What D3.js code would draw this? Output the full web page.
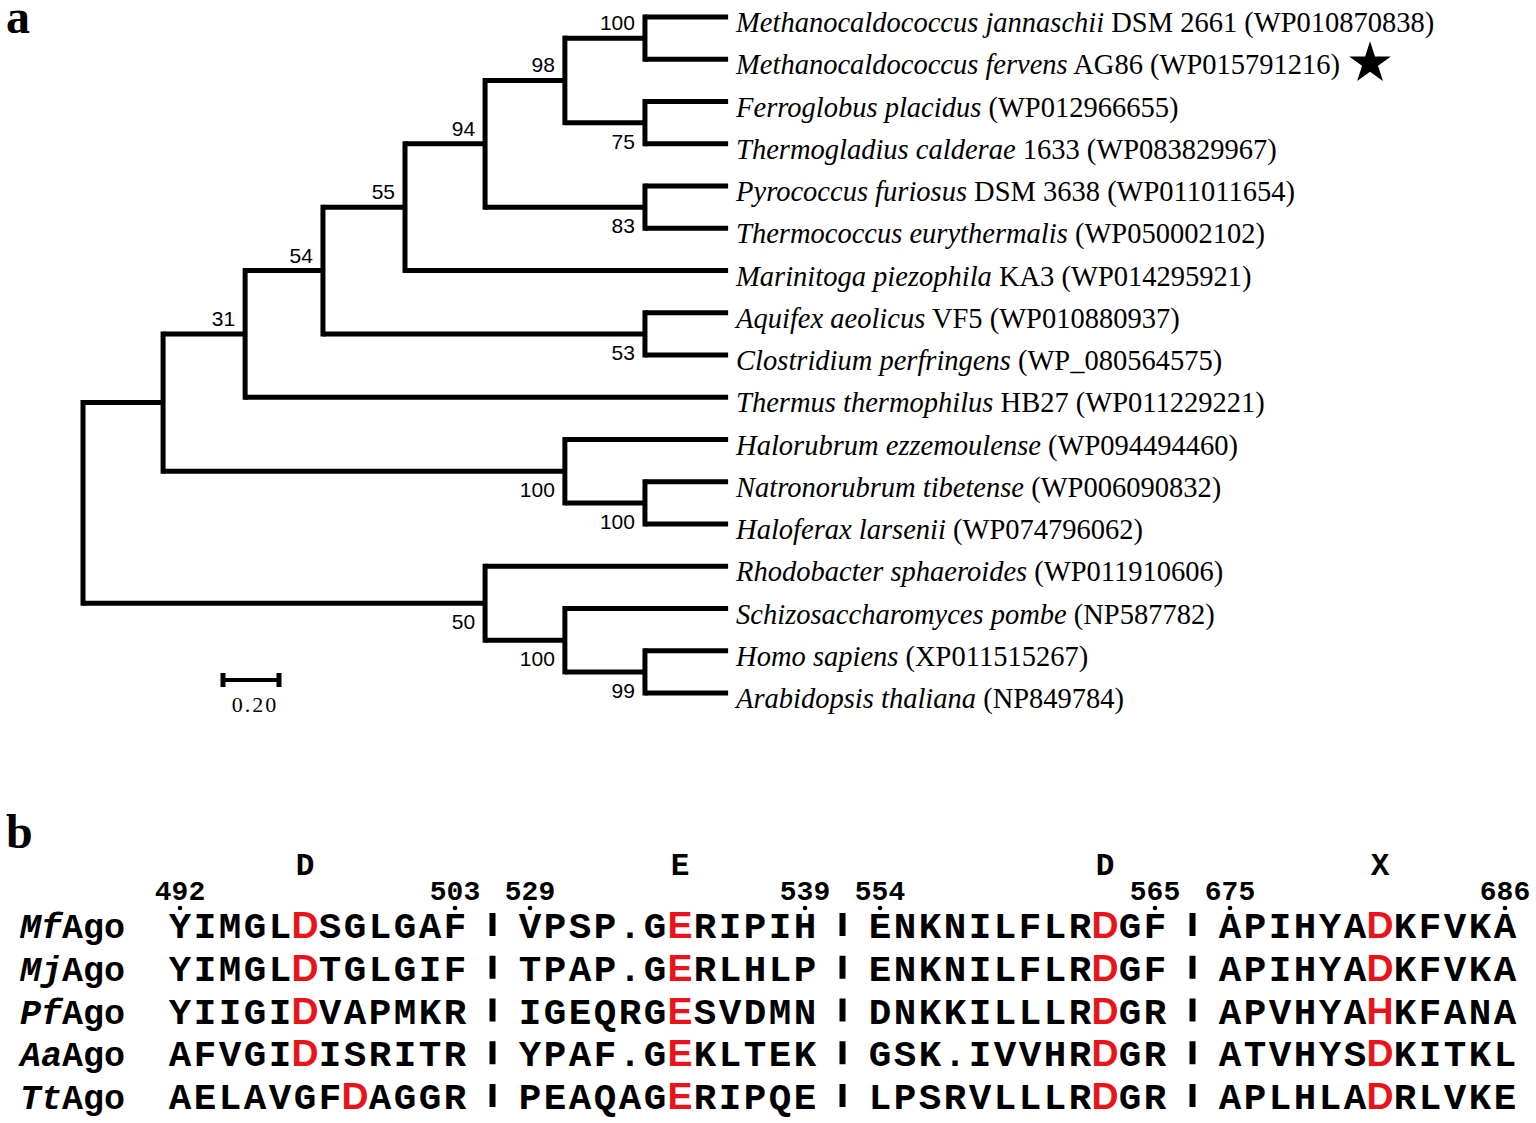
<!DOCTYPE html>
<html><head><meta charset="utf-8">
<script src="https://cdn.jsdelivr.net/npm/d3@7"></script>
<style>
body{margin:0;background:#fff}
svg{display:block}
text{white-space:pre}
</style>
</head><body>
<script>
// ---------- Panel a data ----------
const leafItalic = [
  "Methanocaldococcus jannaschii","Methanocaldococcus fervens","Ferroglobus placidus",
  "Thermogladius calderae","Pyrococcus furiosus","Thermococcus eurythermalis",
  "Marinitoga piezophila","Aquifex aeolicus","Clostridium perfringens",
  "Thermus thermophilus","Halorubrum ezzemoulense","Natronorubrum tibetense",
  "Haloferax larsenii","Rhodobacter sphaeroides","Schizosaccharomyces pombe",
  "Homo sapiens","Arabidopsis thaliana"
];
const leafRoman = [
  " DSM 2661 (WP010870838)"," AG86 (WP015791216)"," (WP012966655)",
  " 1633 (WP083829967)"," DSM 3638 (WP011011654)"," (WP050002102)",
  " KA3 (WP014295921)"," VF5 (WP010880937)"," (WP_080564575)",
  " HB27 (WP011229221)"," (WP094494460)"," (WP006090832)",
  " (WP074796062)"," (WP011910606)"," (NP587782)",
  " (XP011515267)"," (NP849784)"
];
const starredLeaf = ["L1"];
// tree: id, parent, branch length, bootstrap support
const nodeIds      = ["R","A","B","C","D","E","F","G","L0","L1","H","L2","L3","I","L4","L5","L6","J","L7","L8","L9","K","L10","M","L11","L12","N","L13","O","L14","P","L15","L16"];
const nodeParents  = ["", "R","A","B","C","D","E","F","G", "G", "F","H", "H", "E","I", "I", "D", "C","J", "J", "B", "A","K",  "K","M",  "M",  "R","N",  "N","O",  "O","P",  "P"];
const branchLength = [0, 0.286,0.293,0.278,0.293,0.286,0.285,0.286,0.297,0.297,0.286,0.297,0.297,0.571,0.297,0.297,1.154,1.150,0.297,0.297,1.725,1.435,0.583,0.286,0.297,0.297,1.436,0.868,0.285,0.583,0.286,0.297,0.297];
const bootstrap    = [null,null,31,54,55,94,98,100,null,null,75,null,null,83,null,null,null,53,null,null,null,100,null,100,null,null,50,null,100,null,99,null,null];
const scaleBarValue = 0.20;
const scaleBarLabel = "0.20";

// ---------- Panel b data ----------
const seqNames = ["Mf","Mj","Pf","Aa","Tt"];
const seqMf = ["YIMGLDSGLGAF","VPSP.GERIPIH","ENKNILFLRDGF","APIHYADKFVKA"];
const seqMj = ["YIMGLDTGLGIF","TPAP.GERLHLP","ENKNILFLRDGF","APIHYADKFVKA"];
const seqPf = ["YIIGIDVAPMKR","IGEQRGESVDMN","DNKKILLLRDGR","APVHYAHKFANA"];
const seqAa = ["AFVGIDISRITR","YPAF.GEKLTEK","GSK.IVVHRDGR","ATVHYSDKITKL"];
const seqTt = ["AELAVGFDAGGR","PEAQAGERIPQE","LPSRVLLLRDGR","APLHLADRLVKE"];
const catalyticCols = [[5,6,9,6],[5,6,9,6],[5,6,9,6],[5,6,9,6],[7,6,9,6]];
const segStartNum = [492,529,554,675];
const segEndNum   = [503,539,565,686];
const motifLabels = ["D","E","D","X"];
const motifCols   = [5,6,9,6];

// ---------- drawing ----------
const W = 1536, H = 1123;
const svg = d3.select("body").append("svg").attr("width", W).attr("height", H);
const serif = "'Times New Roman','Liberation Serif',serif";
const sans = "Arial,'Liberation Sans',Helvetica,sans-serif";
const mono = "'Courier New','Liberation Mono',monospace";
const red = "#e8131b";

// panel letters
svg.append("text").attr("x", 6).attr("y", 33).text("a")
  .attr("font-family", serif).attr("font-weight", "bold").attr("font-size", 48);
svg.append("text").attr("x", 6).attr("y", 848).text("b")
  .attr("font-family", serif).attr("font-weight", "bold").attr("font-size", 48);

// tree
const table = nodeIds.map((id, i) => ({id, parent: nodeParents[i], len: branchLength[i], support: bootstrap[i]}));
const root = d3.stratify().id(d => d.id).parentId(d => d.parent || null)(table);
root.each(n => { n.dist = n.parent ? n.parent.dist + n.data.len : 0; });
const leaves = root.leaves();
const x = d3.scaleLinear().domain([0, 1]).range([83, 363]);
const y = d3.scalePoint().domain(leaves.map(l => l.id)).range([17, 693]);
root.eachAfter(n => {
  n.py = n.children ? (n.children[0].py + n.children[n.children.length - 1].py) / 2 : y(n.id);
  n.px = x(n.dist);
});
const gTree = svg.append("g");
// horizontals
gTree.selectAll("line.h").data(root.descendants().filter(n => n.parent)).join("line")
  .attr("x1", n => n.parent.px).attr("x2", n => n.px)
  .attr("y1", n => n.py).attr("y2", n => n.py)
  .attr("stroke", "#000").attr("stroke-width", 5);
// verticals
gTree.selectAll("line.v").data(root.descendants().filter(n => n.children)).join("line")
  .attr("x1", n => n.px).attr("x2", n => n.px)
  .attr("y1", n => n.children[0].py).attr("y2", n => n.children[n.children.length - 1].py)
  .attr("stroke", "#000").attr("stroke-width", 5).attr("stroke-linecap", "square");
// bootstrap labels
gTree.selectAll("text.bs").data(root.descendants().filter(n => n.data.support != null)).join("text")
  .attr("x", n => n.px - 10)
  .attr("y", n => n.parent.children[0] === n ? n.py - 8 : n.py + 26)
  .attr("text-anchor", "end").attr("font-family", sans).attr("font-size", 21)
  .text(n => n.data.support);
// leaf labels
const lab = gTree.selectAll("text.leaf").data(leaves).join("text")
  .attr("x", n => n.px + 8).attr("y", n => n.py + 15)
  .attr("font-family", serif).attr("font-size", 28.5);
lab.append("tspan").attr("font-style", "italic").text((n, i) => leafItalic[i]);
lab.append("tspan").text((n, i) => leafRoman[i]);
// star
lab.each(function(n) {
  if (starredLeaf.includes(n.id)) {
    const bb = this.getBBox();
    gTree.append("path").attr("d", d3.symbol(d3.symbolStar, 540)())
      .attr("transform", `translate(${bb.x + bb.width + 30},${n.py + 4})`).attr("fill", "#000");
  }
});
// scale bar
const sbX0 = 223, sbY = 680;
const sbX1 = sbX0 + (x(scaleBarValue) - x(0));
const gSb = svg.append("g");
gSb.append("line").attr("x1", sbX0).attr("x2", sbX1).attr("y1", sbY).attr("y2", sbY).attr("stroke", "#000").attr("stroke-width", 4);
[sbX0, sbX1].forEach(v => gSb.append("line").attr("x1", v).attr("x2", v).attr("y1", sbY - 7).attr("y2", sbY + 7).attr("stroke", "#000").attr("stroke-width", 5));
gSb.append("text").attr("x", (sbX0 + sbX1) / 2 + 4).attr("y", 712).attr("text-anchor", "middle")
  .attr("font-family", serif).attr("font-size", 22).attr("letter-spacing", 2).text(scaleBarLabel);

// alignment
const seqs = [seqMf, seqMj, seqPf, seqAa, seqTt];
const col = d3.scaleLinear().domain([0, 55]).range([180, 180 + 25 * 55]);
const rowY = d3.scaleLinear().domain([0, 4]).range([938, 1109]);
const gB = svg.append("g").attr("font-family", mono).attr("font-weight", "bold");
// row labels
seqNames.forEach((nm, r) => {
  const t = gB.append("text").attr("x", 20).attr("y", rowY(r)).attr("font-size", 35);
  t.append("tspan").attr("font-style", "italic").text(nm);
  t.append("tspan").text("Ago");
});
// residues
const residues = [];
seqs.forEach((row, r) => row.forEach((seg, s) => seg.split("").forEach((ch, k) => {
  residues.push({ch, r, s, k, red: k === catalyticCols[r][s]});
})));
gB.selectAll("text.res").data(residues).join("text")
  .attr("x", d => col(d.s * 14 + d.k)).attr("y", d => rowY(d.r))
  .attr("text-anchor", "middle").attr("font-size", 37.5)
  .attr("fill", d => d.red ? red : "#000")
  .attr("font-family", d => d.red ? sans : null)
  .text(d => d.ch);
// separator bars
seqs.forEach((row, r) => [0, 1, 2].forEach(s => {
  gB.append("rect").attr("x", col(s * 14 + 12.5) - 3).attr("width", 6)
    .attr("y", rowY(r) - 25).attr("height", 23).attr("fill", "#000");
}));
// position numbers and dots
segStartNum.forEach((v, s) => {
  [[0, v], [11, segEndNum[s]]].forEach(([k, num]) => {
    gB.append("text").attr("x", col(s * 14 + k)).attr("y", 900).attr("text-anchor", "middle")
      .attr("font-size", 28).text(num);
    gB.append("circle").attr("cx", col(s * 14 + k)).attr("cy", rowY(0) - 30).attr("r", 2.3).attr("fill", "#000");
  });
  gB.append("text").attr("x", col(s * 14 + motifCols[s])).attr("y", 875).attr("text-anchor", "middle")
    .attr("font-size", 31).text(motifLabels[s]);
});
</script>
</body></html>
